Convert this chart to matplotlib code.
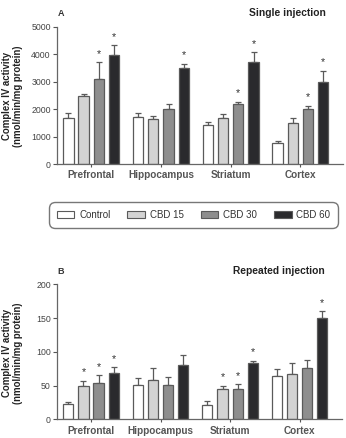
import numpy as np
import matplotlib
matplotlib.use("Agg")
import matplotlib.pyplot as plt
from matplotlib.patches import Patch

plt.rcParams['font.family'] = ['Liberation Sans', 'DejaVu Sans']

regions = ["Prefrontal", "Hippocampus", "Striatum", "Cortex"]
groups = ["Control", "CBD 15", "CBD 30", "CBD 60"]

# A - single injection (mean, SEM)
single_control = [1670, 1710, 1415, 755]
single_cbd15 = [2475, 1635, 1670, 1490]
single_cbd30 = [3085, 2000, 2205, 2000]
single_cbd60 = [3975, 3490, 3730, 3010]
single_control_err = [180, 140, 120, 75]
single_cbd15_err = [95, 110, 160, 180]
single_cbd30_err = [635, 180, 65, 120]
single_cbd60_err = [355, 170, 355, 390]
single_sig = [[0, 0, 0, 0], [0, 0, 0, 0], [1, 0, 1, 1], [1, 1, 1, 1]]

# B - repeated injection
rep_control = [23, 51.5, 21, 64]
rep_cbd15 = [50, 58, 45, 67]
rep_cbd30 = [54, 51.5, 45.5, 76]
rep_cbd60 = [69, 81, 83, 149.5]
rep_control_err = [3, 9.5, 6, 11]
rep_cbd15_err = [7, 18, 4.5, 17]
rep_cbd30_err = [11, 11.5, 6.5, 11.5]
rep_cbd60_err = [8, 14.5, 4, 10.5]
rep_sig = [[0, 0, 0, 0], [1, 0, 1, 0], [1, 0, 1, 0], [1, 0, 1, 1]]

colors = ["white", "#d3d3d3", "#8e8e8e", "#2a2a2d"]
edge = "#5a5a5a"
W, H = 346, 438


def panel(ax, vals, errs, sig, ylim, yticks, letter, title):
    x = np.arange(len(regions))
    step, width = 0.218, 0.148
    for i in range(4):
        xs = x + (i - 1.5) * step
        ax.bar(xs, vals[i], width, color=colors[i], edgecolor=edge, linewidth=0.9, zorder=2)
        ax.errorbar(xs, vals[i], yerr=[np.zeros(4), errs[i]], fmt="none",
                    ecolor=edge, elinewidth=0.9, capsize=2.2, capthick=0.9, zorder=1)
        for j in range(4):
            if sig[i][j]:
                ax.annotate("*", (xs[j], vals[i][j] + errs[i][j]), xytext=(0, 2.5),
                            textcoords="offset points", ha="center", va="bottom",
                            fontsize=7.8, color="#333333")
    ax.set_xlim(-0.49, 3.61)
    ax.set_ylim(*ylim)
    ax.set_yticks(yticks)
    ax.set_xticks(x)
    ax.set_xticklabels(regions, fontweight="bold", fontsize=7.2, color="#222222")
    ax.tick_params(axis="y", labelsize=6.3, colors="#555555", labelcolor="#444444", length=3, width=0.8, pad=1.5)
    ax.tick_params(axis="x", length=2.5, width=0.8, colors="#555555", pad=2)
    for s in ["top", "right"]:
        ax.spines[s].set_visible(False)
    for s in ["left", "bottom"]:
        ax.spines[s].set_color("#666666")
        ax.spines[s].set_linewidth(0.9)
    ax.text(0.003, 1.065, letter, transform=ax.transAxes, fontsize=6.5, fontweight="bold",
            color="#333333", va="bottom", ha="left")
    ax.text(0.94, 1.065, title, transform=ax.transAxes, fontsize=7.4, fontweight="bold",
            color="#222222", va="bottom", ha="right")


fig = plt.figure(figsize=(W / 100, H / 100), dpi=100)
axA = fig.add_axes([57 / W, 1 - 164 / H, 286 / W, 137 / H])
axB = fig.add_axes([57 / W, 1 - 419.3 / H, 285 / W, 135 / H])

panel(axA, [single_control, single_cbd15, single_cbd30, single_cbd60],
      [single_control_err, single_cbd15_err, single_cbd30_err, single_cbd60_err],
      single_sig, (0, 5000), [0, 1000, 2000, 3000, 4000, 5000], "A", "Single injection")
panel(axB, [rep_control, rep_cbd15, rep_cbd30, rep_cbd60],
      [rep_control_err, rep_cbd15_err, rep_cbd30_err, rep_cbd60_err],
      rep_sig, (0, 200), [0, 50, 100, 150, 200], "B", "Repeated injection")

ylab = "Complex IV activity\n(nmol/min/mg protein)"
fig.text(12.5 / W, 1 - 96 / H, ylab, rotation=90, ha="center", va="center",
         fontsize=6.9, fontweight="bold", color="#222222", multialignment="center")
fig.text(12.5 / W, 1 - 353 / H, ylab, rotation=90, ha="center", va="center",
         fontsize=6.9, fontweight="bold", color="#222222", multialignment="center")

handles = [Patch(facecolor=c, edgecolor=edge, linewidth=0.8) for c in colors]
leg = fig.legend(handles, groups, loc="center", ncol=4, mode="expand",
                 bbox_to_anchor=(44 / W, 1 - 228 / H, 299 / W, 26 / H),
                 fontsize=7, handlelength=1.8, handleheight=0.7, handletextpad=0.5,
                 columnspacing=2.0, borderpad=0.8, fancybox=True, framealpha=1,
                 edgecolor="#777777", labelcolor="#333333")
leg.get_frame().set_boxstyle("round", pad=0, rounding_size=0.6)

fig.savefig("out.png", dpi=100)
